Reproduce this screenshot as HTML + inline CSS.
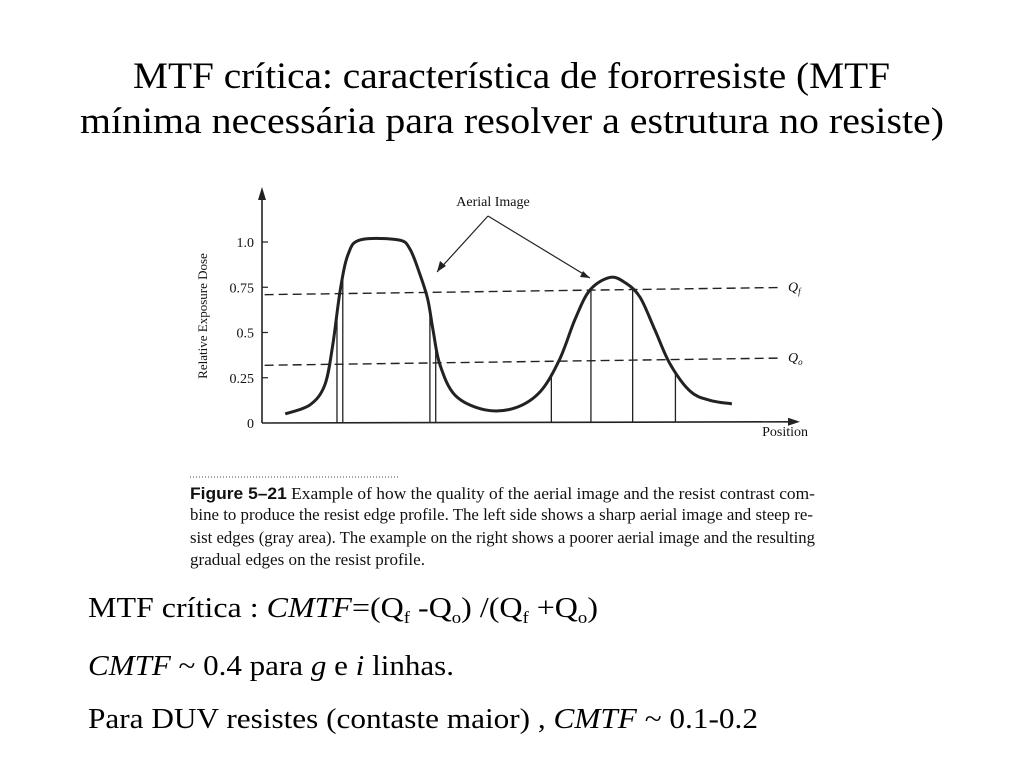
<!DOCTYPE html>
<html><head><meta charset="utf-8"><style>html,body{margin:0;padding:0;background:#fff}svg{display:block}</style></head>
<body>
<svg id="chart" width="1024" height="768" viewBox="0 0 1024 768" xmlns="http://www.w3.org/2000/svg" font-family="'Liberation Serif', serif">
<g font-size="37" fill="#000">
<text x="133" y="88" textLength="757" lengthAdjust="spacingAndGlyphs">MTF crítica: característica de fororresiste (MTF</text>
<text x="80" y="133" textLength="864" lengthAdjust="spacingAndGlyphs">mínima necessária para resolver a estrutura no resiste)</text>
</g>
<g id="plot"></g>
<g font-size="17" fill="#111">
<line x1="190" y1="477" x2="400" y2="477" stroke="#444" stroke-dasharray="1,2"/>
<text x="190" y="499" textLength="625" lengthAdjust="spacingAndGlyphs"><tspan font-family="'Liberation Sans', sans-serif" font-weight="bold">Figure 5–21</tspan> Example of how the quality of the aerial image and the resist contrast com-</text>
<text x="190" y="520" textLength="623" lengthAdjust="spacingAndGlyphs">bine to produce the resist edge profile. The left side shows a sharp aerial image and steep re-</text>
<text x="190" y="543" textLength="625" lengthAdjust="spacingAndGlyphs">sist edges (gray area). The example on the right shows a poorer aerial image and the resulting</text>
<text x="190" y="565" textLength="235" lengthAdjust="spacingAndGlyphs">gradual edges on the resist profile.</text>
</g>
<g font-size="29" fill="#000">
<text x="88" y="617" textLength="510" lengthAdjust="spacingAndGlyphs">MTF crítica : <tspan font-style="italic">CMTF</tspan>=(Q<tspan font-size="17" dy="6">f</tspan><tspan dy="-6"> -Q</tspan><tspan font-size="17" dy="6">o</tspan><tspan dy="-6">) /(Q</tspan><tspan font-size="17" dy="6">f</tspan><tspan dy="-6"> +Q</tspan><tspan font-size="17" dy="6">o</tspan><tspan dy="-6">)</tspan></text>
<text x="88" y="675" textLength="366" lengthAdjust="spacingAndGlyphs"><tspan font-style="italic">CMTF</tspan> ~ 0.4 para <tspan font-style="italic">g</tspan> e <tspan font-style="italic">i</tspan> linhas.</text>
<text x="88" y="728" textLength="670" lengthAdjust="spacingAndGlyphs">Para DUV resistes (contaste maior) , <tspan font-style="italic">CMTF</tspan> ~ 0.1-0.2</text>
</g>
</svg>
<script>
const posX = [4.4,9.1,11.9,13.4,14.8,16.3,18.6,25.8,28.0,29.9,31.4,32.4,33.7,36.6,42.2,47.9,52.7,56.4,59.3,62.1,65.9,68.8,71.6,74.4,77.3,81.1,84.8,89.0];
const doseY = [0.05,0.10,0.21,0.43,0.73,0.93,1.01,1.01,0.96,0.82,0.68,0.51,0.32,0.15,0.07,0.08,0.17,0.35,0.57,0.73,0.80,0.77,0.69,0.51,0.32,0.17,0.12,0.10];
const yTicks = [0,0.25,0.5,0.75,1.0];
const yTickLabels = ["0","0.25","0.5","0.75","1.0"];
const edgeX = [14.2,15.3,31.8,32.9,54.8,62.3,70.2,78.3];
const qf = 0.72, qo = 0.33;
const NS = "http://www.w3.org/2000/svg";
const g = document.getElementById('plot');
const X = v => 262 + v*5.28;
const base = v => 423 - v*0.012;
const Y = (d, x) => base(x) - d*181;
function mk(t, a, p){const e=document.createElementNS(NS,t);for(const k in a)e.setAttribute(k,a[k]);(p||g).appendChild(e);return e;}
const stroke = "#222";
let e = mk('line',{x1:262,y1:base(0),x2:262,y2:192,stroke:stroke,'stroke-width':1.6});
 
e = mk('path',{d:'M258,200 L262,187 L266,200 Z',fill:stroke});
 
e = mk('line',{x1:262,y1:base(0),x2:X(100),y2:base(100),stroke:stroke,'stroke-width':1.6});
 
e = mk('path',{d:`M${X(100)-2},${base(100)-4} L${X(100)+10},${base(100)} L${X(100)-2},${base(100)+4} Z`,fill:stroke});
 
yTicks.forEach((t,i)=>{
  if(t>0){const l=mk('line',{x1:262,y1:Y(t,0),x2:268,y2:Y(t,0),stroke:stroke,'stroke-width':1.2});
   }
  const tx=mk('text',{x:254,y:Y(t,0)+5,'text-anchor':'end','font-size':14,fill:'#111'});
  tx.textContent=yTickLabels[i];
   
});
e = mk('text',{x:0,y:0,'font-size':13,fill:'#111','text-anchor':'middle',transform:'translate(207,316) rotate(-90)'});
e.textContent='Relative Exposure Dose';
 
e = mk('text',{x:808,y:436,'font-size':14,fill:'#111','text-anchor':'end'});
e.textContent='Position';
 
[[qf,'Q','f','q-f-line'],[qo,'Q','o','q-o-line']].forEach(([q,a,b,n])=>{
  const l=mk('line',{x1:X(0.5),y1:Y(q,0.5)+2,x2:X(98),y2:Y(q,98)-4,stroke:stroke,'stroke-width':1.4,'stroke-dasharray':'9,5'});
   
  const t=mk('text',{x:X(100)-2,y:Y(q,98),'font-size':14,'font-style':'italic',fill:'#111'});
  t.textContent=a; const s=mk('tspan',{'font-size':9,dy:3},t); s.textContent=b;
   
});
const pts = posX.map((x,i)=>[X(x),Y(doseY[i],x)]);
let d=`M${pts[0][0]},${pts[0][1]}`;
for(let i=0;i<pts.length-1;i++){
  const p0=pts[Math.max(0,i-1)],p1=pts[i],p2=pts[i+1],p3=pts[Math.min(pts.length-1,i+2)];
  d+=` C${p1[0]+(p2[0]-p0[0])/6},${p1[1]+(p2[1]-p0[1])/6} ${p2[0]-(p3[0]-p1[0])/6},${p2[1]-(p3[1]-p1[1])/6} ${p2[0]},${p2[1]}`;
}
e = mk('path',{d:d,fill:'none',stroke:stroke,'stroke-width':3,'stroke-linejoin':'round'});
 
function interp(x){for(let i=0;i<posX.length-1;i++){if(x>=posX[i]&&x<=posX[i+1]){const t=(x-posX[i])/(posX[i+1]-posX[i]);return doseY[i]+t*(doseY[i+1]-doseY[i]);}}return 0;}
edgeX.forEach(x=>{
  const l=mk('line',{x1:X(x),y1:Y(interp(x),x),x2:X(x),y2:base(x),stroke:stroke,'stroke-width':1.3});
   
});
e = mk('text',{x:493,y:206,'font-size':14,fill:'#111','text-anchor':'middle'});
e.textContent='Aerial Image';
 
e = mk('path',{d:'M488,216 L437,272 M488,216 L590,278',stroke:stroke,fill:'none','stroke-width':1.2});
 
e = mk('path',{d:'M437,272 L440,261 L446,266 Z M590,278 L580,277 L583,271 Z',fill:stroke});
 
</script>
</body></html>
